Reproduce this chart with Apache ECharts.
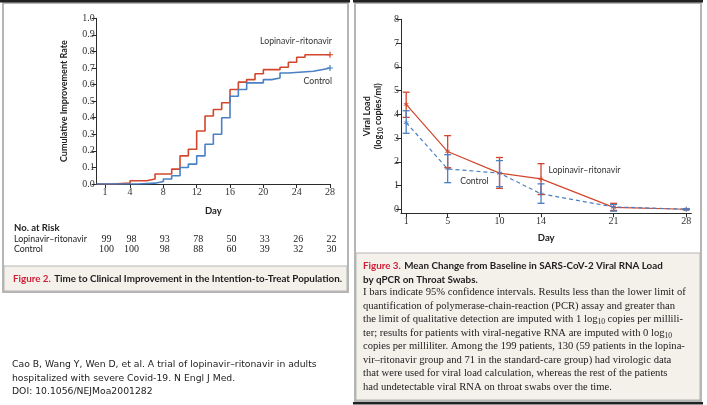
<!DOCTYPE html>
<html><head><meta charset="utf-8">
<script src="https://cdn.jsdelivr.net/npm/echarts@6/dist/echarts.min.js"></script>
<style>html,body{margin:0;padding:0;background:#fff}#c{width:707px;height:405px}</style>
</head><body><div id="c"></div>
<script>
// ---- Figure 2: cumulative improvement (step curves) ----
const kmDaysLPV = [0, 2, 4, 6, 7, 9, 10, 11, 12, 13, 14, 15, 16, 17, 18, 19, 20, 22, 23, 24, 25, 28];
const kmRateLPV = [0, 0.005, 0.02, 0.03, 0.06, 0.09, 0.17, 0.21, 0.32, 0.41, 0.45, 0.49, 0.57, 0.615, 0.63, 0.665, 0.69, 0.705, 0.735, 0.765, 0.78, 0.78];
const kmDaysCtl = [0, 5, 7, 8, 9, 10, 11, 12, 13, 14, 15, 16, 17, 18, 20, 21, 22, 23, 26, 27, 28];
const kmRateCtl = [0, 0.005, 0.015, 0.03, 0.05, 0.10, 0.12, 0.17, 0.24, 0.30, 0.40, 0.53, 0.57, 0.61, 0.63, 0.64, 0.67, 0.68, 0.69, 0.70, 0.70];
const kmTicks = [1, 4, 8, 12, 16, 20, 24, 28];
const riskLPV = [99, 98, 93, 78, 50, 33, 26, 22];
const riskCtl = [100, 100, 98, 88, 60, 39, 32, 30];

// ---- Figure 3: viral load ----
const vlDays = [1, 5, 10, 14, 21, 28];
const vlLPV = [4.42, 2.43, 1.52, 1.28, 0.08, 0.0];
const vlLPVlo = [3.87, 1.75, 0.88, 0.62, -0.05, -0.02];
const vlLPVhi = [4.93, 3.10, 2.18, 1.92, 0.25, 0.02];
const vlCtl = [3.65, 1.70, 1.52, 0.65, 0.10, 0.0];
const vlCtllo = [3.20, 1.12, 0.95, 0.25, -0.08, -0.02];
const vlCtlhi = [4.15, 2.30, 2.05, 1.07, 0.20, 0.02];
const vlTicks = [1, 5, 10, 14, 21, 28];
const vlYTicks = [0, 1, 2, 3, 4, 5, 6, 7, 8];

const RED = '#d2472c', BLUE = '#4a80c4', AX = '#2a2a2a', CAPRED = '#d0213a', BEIGE = '#f4f0ea', FRAME = '#b5b5b5';
const SANS = "Lato,'Open Sans',sans-serif";
const SERIF = "'Liberation Serif','DejaVu Serif',serif";
const PLUS = 'path://M4,0H6V4H10V6H6V10H4V6H0V4H4Z';
const STAR = 'path://M4.3,0H5.7V3.6L9,2.2L9.5,3.5L6.3,5L9.5,6.5L9,7.8L5.7,6.4V10H4.3V6.4L1,7.8L0.5,6.5L3.7,5L0.5,3.5L1,2.2L4.3,3.6Z';

function kmData(days, rates, labelCfg) {
  return days.map((d, i) => {
    if (i === days.length - 1) {
      return { value: [d, rates[i]], symbol: PLUS, symbolSize: 6, label: labelCfg };
    }
    return { value: [d, rates[i]], symbol: 'none' };
  });
}
function vlData(vals, labelIdx, labelCfg) {
  return vlDays.map((d, i) => i === labelIdx ? { value: [d, vals[i]], label: labelCfg } : [d, vals[i]]);
}
function errData(lo, hi) { return vlDays.map((d, i) => [d, lo[i], hi[i]]); }
function errRender(color) {
  return function (params, api) {
    const x = api.value(0), lo = api.value(1), hi = api.value(2);
    const a = api.coord([x, hi]), b = api.coord([x, lo]);
    const w = 3.5, st = { stroke: color, lineWidth: 1.3 };
    return { type: 'group', children: [
      { type: 'line', shape: { x1: a[0], y1: a[1], x2: b[0], y2: b[1] }, style: st },
      { type: 'line', shape: { x1: a[0] - w, y1: a[1], x2: a[0] + w, y2: a[1] }, style: st },
      { type: 'line', shape: { x1: b[0] - w, y1: b[1], x2: b[0] + w, y2: b[1] }, style: st }
    ]};
  };
}

const axLine = { show: true, onZero: false, lineStyle: { color: AX, width: 1 } };
const tickLbl = { color: '#333', fontFamily: SERIF, fontSize: 10 };
const nameStyle = { color: '#222', fontFamily: SANS, fontSize: 9, fontWeight: 'bold' };
const lblStyle = { color: '#333', fontFamily: SANS, fontSize: 8.7 };

const chart = echarts.init(document.getElementById('c'));
const option = {
  animation: false,
  backgroundColor: '#fff',
  grid: [
    { left: 96.7, top: 18.3, width: 233.3, height: 165.7 },
    { left: 401, top: 19.3, width: 290.4, height: 194 }
  ],
  xAxis: [
    { gridIndex: 0, type: 'value', min: 0, max: 28, axisLine: axLine,
      axisTick: { show: true, length: 4, customValues: kmTicks, lineStyle: { color: AX } },
      axisLabel: Object.assign({ customValues: kmTicks, margin: 3 }, tickLbl),
      splitLine: { show: false }, name: 'Day', nameLocation: 'middle', nameGap: 22, nameTextStyle: Object.assign({}, nameStyle, { fontSize: 9.5 }) },
    { gridIndex: 1, type: 'value', min: 0.5, max: 28.5, axisLine: axLine,
      axisTick: { show: true, length: 4, customValues: vlTicks, lineStyle: { color: AX } },
      axisLabel: Object.assign({ customValues: vlTicks, margin: 3 }, tickLbl),
      splitLine: { show: false }, name: 'Day', nameLocation: 'middle', nameGap: 20, nameTextStyle: Object.assign({}, nameStyle, { fontSize: 9.5 }) }
  ],
  yAxis: [
    { gridIndex: 0, type: 'value', min: 0, max: 1, interval: 0.1, axisLine: axLine,
      axisTick: { show: true, length: 5, lineStyle: { color: AX } },
      axisLabel: Object.assign({ formatter: v => v.toFixed(1), margin: 2 }, tickLbl),
      splitLine: { show: false }, name: 'Cumulative Improvement Rate', nameLocation: 'middle', nameGap: 28, nameTextStyle: nameStyle },
    { gridIndex: 1, type: 'value', min: -0.17, max: 8, axisLine: axLine,
      axisTick: { show: true, length: 5, customValues: vlYTicks, lineStyle: { color: AX } },
      axisLabel: Object.assign({ customValues: vlYTicks, margin: 2 }, tickLbl),
      splitLine: { show: false }, name: 'Viral Load\n(log{sub|10} copies/ml)', nameLocation: 'middle', nameGap: 17,
      nameTextStyle: Object.assign({ lineHeight: 11.5, align: 'center', rich: { sub: { fontFamily: SANS, fontSize: 6.5, fontWeight: 'bold', color: '#222', padding: [5, 0, 0, 0] } } }, nameStyle) }
  ],
  series: [
    { name: 'Lopinavir–ritonavir', type: 'line', xAxisIndex: 0, yAxisIndex: 0, step: 'end',
      data: kmData(kmDaysLPV, kmRateLPV, Object.assign({ show: true, position: 'top', align: 'right', offset: [2, -1], formatter: 'Lopinavir–ritonavir' }, lblStyle)),
      itemStyle: { color: RED }, lineStyle: { color: RED, width: 1.6 } },
    { name: 'Control', type: 'line', xAxisIndex: 0, yAxisIndex: 0, step: 'end',
      data: kmData(kmDaysCtl, kmRateCtl, Object.assign({ show: true, position: 'bottom', align: 'right', offset: [2, 1], formatter: 'Control' }, lblStyle)),
      itemStyle: { color: BLUE }, lineStyle: { color: BLUE, width: 1.6 } },
    { name: 'VL Lopinavir–ritonavir', type: 'line', xAxisIndex: 1, yAxisIndex: 1,
      data: vlData(vlLPV, 3, Object.assign({ show: true, position: 'right', offset: [0, -9], formatter: 'Lopinavir–ritonavir' }, lblStyle)),
      symbol: STAR, symbolSize: 5, itemStyle: { color: RED }, lineStyle: { color: RED, width: 1.2 }, z: 3 },
    { name: 'VL Control', type: 'line', xAxisIndex: 1, yAxisIndex: 1,
      data: vlData(vlCtl, 1, Object.assign({ show: true, position: 'right', offset: [5, 12], formatter: 'Control' }, lblStyle)),
      symbol: STAR, symbolSize: 5, itemStyle: { color: BLUE }, lineStyle: { color: BLUE, width: 1.2, type: [4, 3] }, z: 3 },
    { type: 'custom', xAxisIndex: 1, yAxisIndex: 1, data: errData(vlLPVlo, vlLPVhi), renderItem: errRender(RED), z: 4 },
    { type: 'custom', xAxisIndex: 1, yAxisIndex: 1, data: errData(vlCtllo, vlCtlhi), renderItem: errRender(BLUE), z: 4 }
  ]
};
chart.setOption(option);

// ---- panels, risk table and captions ----
const g = [];
// left panel frame
g.push({ type: 'rect', shape: { x: 3, y: 3, width: 345, height: 289 }, style: { fill: 'none', stroke: FRAME, lineWidth: 2 }, z: 0 });
g.push({ type: 'rect', shape: { x: 4, y: 266, width: 343, height: 25 }, style: { fill: BEIGE, stroke: FRAME, lineWidth: 1 }, z: 0 });
g.push({ type: 'rect', shape: { x: 0, y: 0, width: 350, height: 2.5 }, style: { fill: '#222' }, z: 1 });
// right panel frame
g.push({ type: 'rect', shape: { x: 355, y: 3, width: 346, height: 398 }, style: { fill: 'none', stroke: FRAME, lineWidth: 2 }, z: 0 });
g.push({ type: 'rect', shape: { x: 356, y: 253, width: 344, height: 147 }, style: { fill: BEIGE, stroke: FRAME, lineWidth: 1 }, z: 0 });
g.push({ type: 'rect', shape: { x: 353, y: 0, width: 350, height: 2.5 }, style: { fill: '#222' }, z: 1 });
g.push({ type: 'rect', shape: { x: 353, y: 402, width: 350, height: 2.5 }, style: { fill: '#222' }, z: 1 });

// risk table
const tFont = { fontFamily: SANS, fontSize: 8.8, fill: '#222' };
g.push({ type: 'text', x: 14, y: 228, style: Object.assign({}, tFont, { text: 'No. at Risk', fontWeight: 'bold', fontSize: 9.5, verticalAlign: 'middle' }), z: 5 });
g.push({ type: 'text', x: 14, y: 239, style: Object.assign({ text: 'Lopinavir–ritonavir', verticalAlign: 'middle' }, tFont), z: 5 });
g.push({ type: 'text', x: 14, y: 249.5, style: Object.assign({ text: 'Control', verticalAlign: 'middle' }, tFont), z: 5 });
kmTicks.forEach((d, i) => {
  const px = chart.convertToPixel({ xAxisIndex: 0 }, d) + 1.5;
  g.push({ type: 'text', x: px, y: 239, style: { text: String(riskLPV[i]), fontFamily: SERIF, fontSize: 10, fill: '#222', align: 'center', verticalAlign: 'middle' }, z: 5 });
  g.push({ type: 'text', x: px, y: 249.5, style: { text: String(riskCtl[i]), fontFamily: SERIF, fontSize: 10, fill: '#222', align: 'center', verticalAlign: 'middle' }, z: 5 });
});

// captions
const capRich = {
  r: { fill: CAPRED, fontFamily: SANS, fontSize: 9.8, fontWeight: 'bold' },
  b: { fill: '#1e1e1e', fontFamily: SANS, fontSize: 9.8, fontWeight: 'bold' }
};
g.push({ type: 'text', x: 13, y: 279, style: { text: '{r|Figure 2.} {b|Time to Clinical Improvement in the Intention-to-Treat Population.}', rich: capRich, verticalAlign: 'middle' }, z: 5 });
g.push({ type: 'text', x: 363, y: 266, style: { text: '{r|Figure 3.} {b|Mean Change from Baseline in SARS-CoV-2 Viral RNA Load}', rich: capRich, verticalAlign: 'middle' }, z: 5 });
g.push({ type: 'text', x: 363, y: 279.5, style: { text: '{b|by qPCR on Throat Swabs.}', rich: capRich, verticalAlign: 'middle' }, z: 5 });

const bodyLines = [
  'I bars indicate 95% confidence intervals. Results less than the lower limit of',
  'quantification of polymerase-chain-reaction (PCR) assay and greater than',
  'the limit of qualitative detection are imputed with 1 log{s|10} copies per millili-',
  'ter; results for patients with viral-negative RNA are imputed with 0 log{s|10}',
  'copies per milliliter. Among the 199 patients, 130 (59 patients in the lopina-',
  'vir–ritonavir group and 71 in the standard-care group) had virologic data',
  'that were used for viral load calculation, whereas the rest of the patients',
  'had undetectable viral RNA on throat swabs over the time.'
];
bodyLines.forEach((t, i) => {
  g.push({ type: 'text', x: 363, y: 292.7 + i * 13.45, style: {
    text: t, fontFamily: SERIF, fontSize: 10.6, fill: '#222', verticalAlign: 'middle',
    rich: { s: { fontFamily: SERIF, fontSize: 7.5, fill: '#222', padding: [5, 0, 0, 0] } } }, z: 5 });
});

// citation
const citeLines = [
  'Cao B, Wang Y, Wen D, et al. A trial of lopinavir–ritonavir in adults',
  'hospitalized with severe Covid-19. N Engl J Med.',
  'DOI: 10.1056/NEJMoa2001282'
];
citeLines.forEach((t, i) => {
  g.push({ type: 'text', x: 12, y: 365 + i * 13.3, style: { text: t, fontFamily: "'DejaVu Sans',sans-serif", fontSize: 9.25, fill: '#222', verticalAlign: 'middle' }, z: 5 });
});

chart.setOption({ graphic: { elements: g } });
</script></body></html>
